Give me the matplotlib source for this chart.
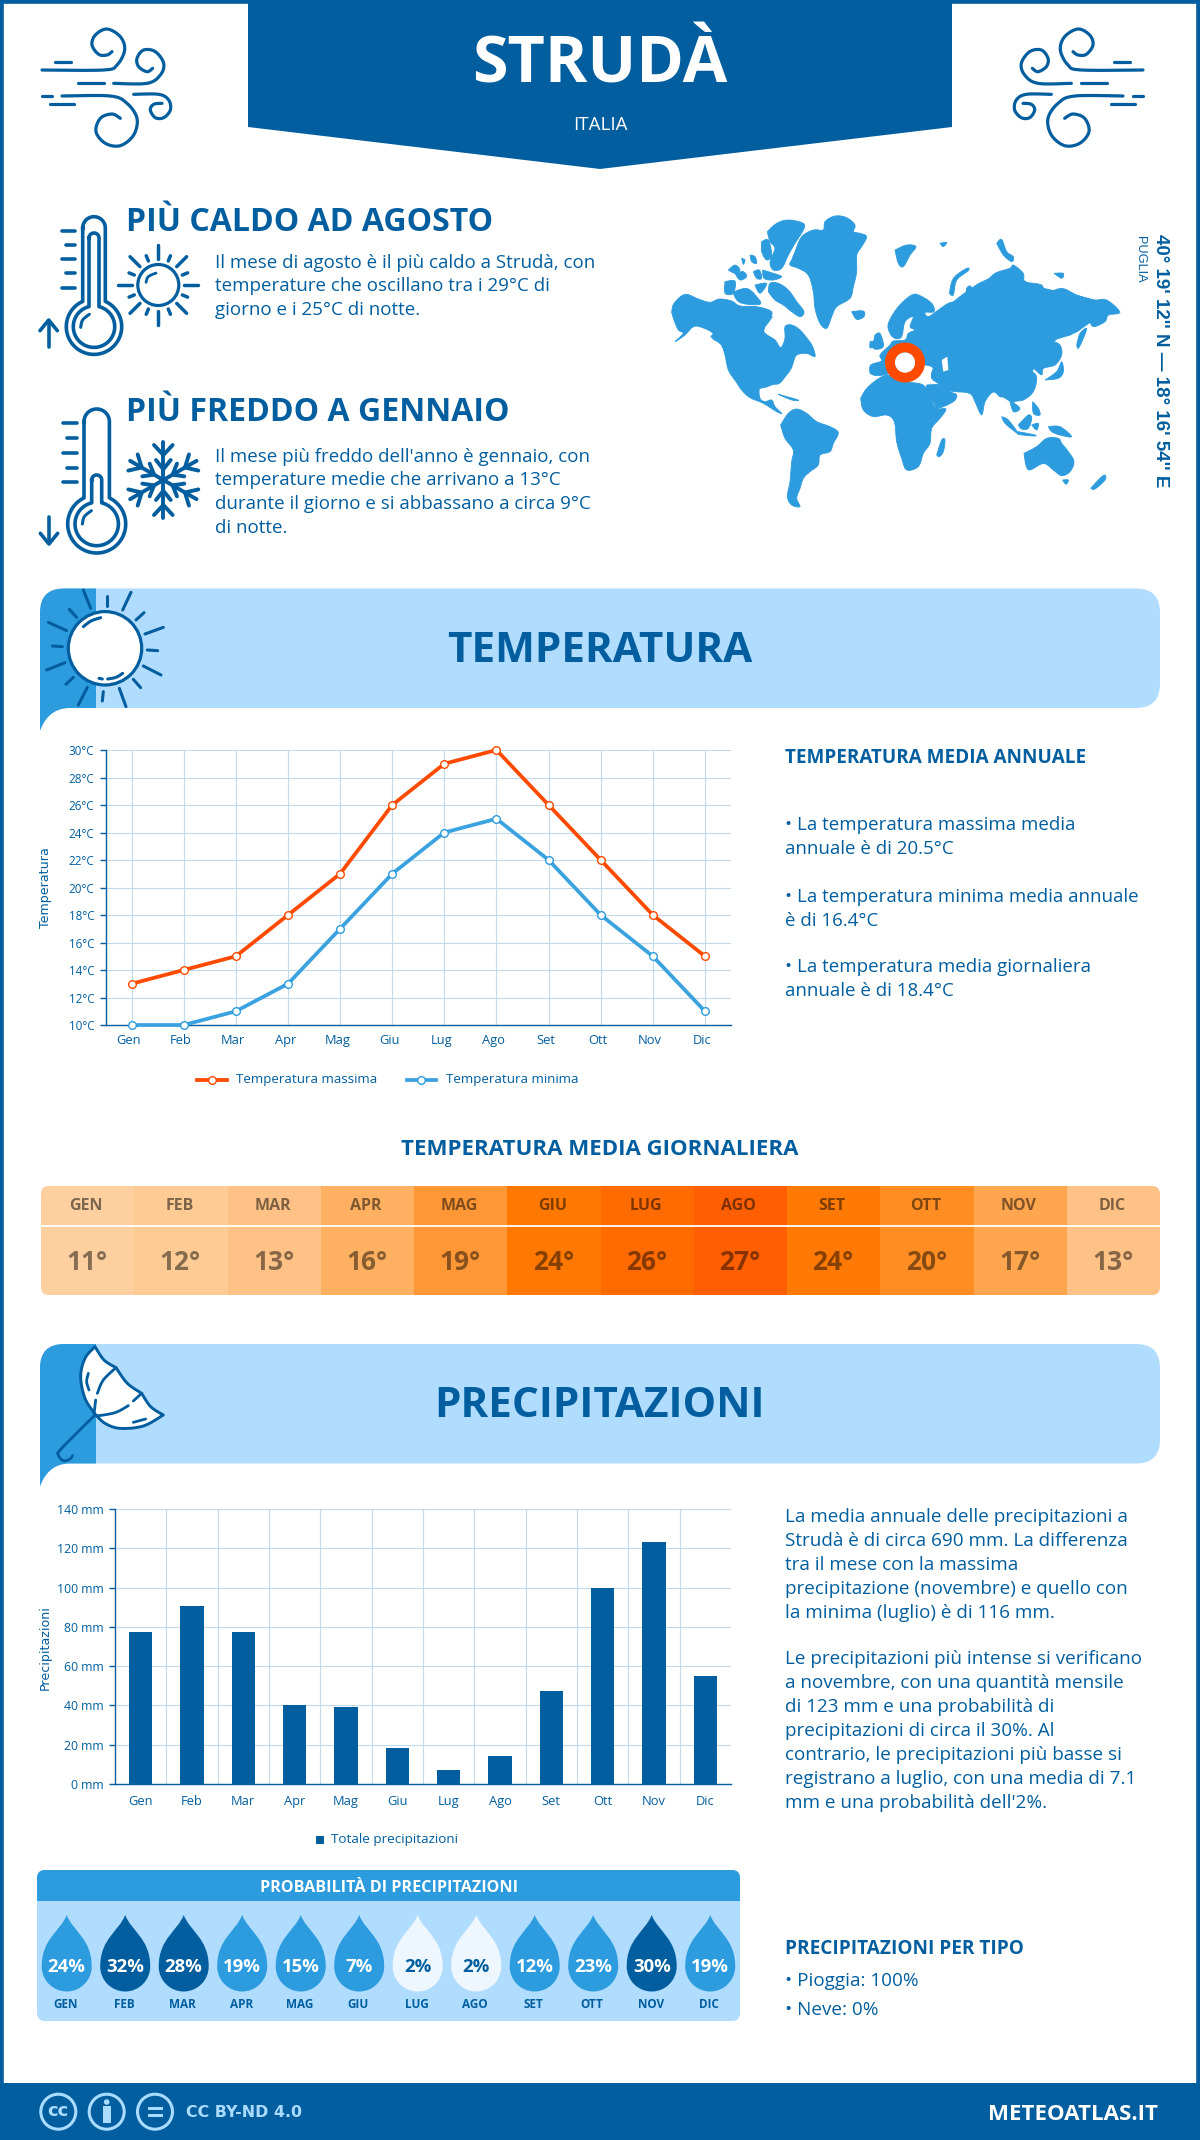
import numpy as np
import matplotlib
matplotlib.use("Agg")
import matplotlib.pyplot as plt
from matplotlib.patches import Rectangle, Circle, Polygon, FancyBboxPatch, PathPatch, Wedge
from matplotlib.path import Path
from matplotlib.transforms import ScaledTranslation

plt.rcParams["font.family"] = ["Open Sans", "DejaVu Sans"]

DARK = "#025e9e"
MID = "#2d9cde"
LIGHT = "#b0dcff"
GRID = "#c3daea"
RED = "#ff4a00"

months = ["Gen", "Feb", "Mar", "Apr", "Mag", "Giu", "Lug", "Ago", "Set", "Ott", "Nov", "Dic"]
temp_max = [13, 14, 15, 18, 21, 26, 29, 30, 26, 22, 18, 15]
temp_min = [10, 10, 11, 13, 17, 21, 24, 25, 22, 18, 15, 11]
temp_mean = [11, 12, 13, 16, 19, 24, 26, 27, 24, 20, 17, 13]
temp_colors = ["#fecf9f", "#fecb95", "#fec286", "#ffb060", "#ff9736", "#ff7800",
               "#ff6b00", "#ff5f00", "#ff7a05", "#ff8d22", "#ffa64f", "#ffc286"]
rain_mm = [77.6, 90.7, 77.6, 40.4, 39.4, 18.4, 7.1, 14.5, 47.4, 100, 123, 55]
rain_prob = [24, 32, 28, 19, 15, 7, 2, 2, 12, 23, 30, 19]

W, H = 1200, 2140
fig = plt.figure(figsize=(W / 100, H / 100), dpi=100, facecolor="white")
bg = fig.add_axes([0, 0, 1, 1])
bg.set_xlim(0, W)
bg.set_ylim(H, 0)
bg.axis("off")


def smooth(pts, n=14):
    p = np.array(pts, dtype=float)
    p = np.vstack([p[0], p, p[-1]])
    out = []
    for i in range(1, len(p) - 2):
        for t in np.linspace(0, 1, n, endpoint=False):
            a = 2 * p[i] + (p[i + 1] - p[i - 1]) * t
            b = (2 * p[i - 1] - 5 * p[i] + 4 * p[i + 1] - p[i + 2]) * t ** 2
            c = (3 * p[i] - p[i - 1] - 3 * p[i + 1] + p[i + 2]) * t ** 3
            out.append(0.5 * (a + b + c))
    out.append(p[-2])
    return np.array(out)


def zline(pts, ox, oy, lw=2.0, curve=True, color=DARK, z=5):
    q = smooth(pts) if curve and len(pts) > 2 else np.array(pts, dtype=float)
    q = q / 3 + [ox, oy]
    bg.plot(q[:, 0], q[:, 1], color=color, lw=lw, solid_capstyle="round", solid_joinstyle="round", zorder=z)


def txt(x, y, s, size, color=DARK, bold=False, ha="left", **kw):
    return bg.text(x, y, s, fontsize=size, color=color, ha=ha, va="center",
                   fontweight="bold" if bold else "normal", **kw)


#Frame and header
bg.add_patch(Rectangle((0, 0), W, H, fc="none", ec=DARK, lw=5.5, zorder=1))
bg.add_patch(Polygon([(248, 0), (952, 0), (952, 127), (600, 169), (248, 127)], fc=DARK, ec="none"))
txt(600, 66, "STRUDÀ", 46.5, "white", True, "center")
txt(600, 125, "ITALIA", 13.5, "white", False, "center")

#Wind icons
wind_curves = [
    [(30, 165), (215, 165), (255, 150), (278, 105), (265, 65), (225, 42), (190, 60), (180, 90), (200, 118), (225, 120), (240, 110)],
    [(245, 205), (345, 205), (385, 180), (395, 145), (370, 110), (335, 105), (315, 130), (320, 155), (345, 170), (362, 160)],
    [(90, 243), (235, 243), (285, 265), (315, 310), (305, 360), (265, 392), (220, 385), (192, 350), (205, 310), (240, 297), (265, 310)],
    [(305, 238), (380, 238), (410, 255), (415, 285), (395, 308), (370, 308), (355, 285), (365, 268), (390, 265)],
    [(68, 140), (118, 140)], [(138, 205), (215, 205)], [(30, 243), (60, 243)], [(55, 267), (125, 267)],
]
for c in wind_curves:
    zline(c, 32, 15, 2.3)
    q = smooth(c) if len(c) > 2 else np.array(c, dtype=float)
    q = q / 3 + [32, 15]
    bg.plot(1185 - q[:, 0], q[:, 1], color=DARK, lw=2.3, solid_capstyle="round")


#Thermometers
def tube(cx, top, half, by, R):
    cap = np.linspace(np.pi, 0, 30)
    a = np.arcsin(half / R)
    phi = np.linspace(a, 2 * np.pi - a, 90)
    o = np.vstack([np.c_[cx + half * np.cos(cap), top - half * np.sin(cap)],
                   np.c_[cx + R * np.sin(phi), by - R * np.cos(phi)]])
    o = np.vstack([o, o[0]])
    bg.plot(o[:, 0], o[:, 1], color=DARK, lw=2.6, solid_joinstyle="round")


tube(94, 228, 11.3, 326.7, 27.7)
tube(94, 238, 5, 326.7, 20.7)
tube(96.7, 421.7, 12.7, 524, 29)
tube(96.7, 480, 5, 524, 21.7)
for y, x0 in zip([77, 120, 163, 205, 248], [97, 108, 97, 108, 97]):
    zline([(x0, y), (135, y)], 30, 205, 2.6)
for y, x0 in zip([70, 115, 158, 203, 247], [100, 110, 100, 110, 100]):
    zline([(x0, y), (140, y)], 30, 400, 2.6)
zline([(56, 425), (56, 347)], 30, 205, 2.6)
zline([(30, 377), (56, 345), (82, 377)], 30, 205, 2.6, curve=False)
zline([(57, 350), (57, 430)], 30, 400, 2.6)
zline([(31, 400), (57, 432), (83, 400)], 30, 400, 2.6, curve=False)
zline([(152, 367), (158, 345), (178, 328)], 30, 205, 2.2)
zline([(157, 372), (163, 350), (184, 332)], 30, 400, 2.2)

#Small sun
bg.add_patch(Circle((158.3, 285), 20.5, fc="none", ec=DARK, lw=2.3))
zline([(348, 232), (355, 215), (378, 204)], 30, 205, 2.0)
for k in range(8):
    a = k * np.pi / 4
    zline([(385 + 78 * np.cos(a), 240 + 78 * np.sin(a)), (385 + 120 * np.cos(a), 240 + 120 * np.sin(a))], 30, 205, 2.5)
    a += np.pi / 8
    zline([(385 + 78 * np.cos(a), 240 + 78 * np.sin(a)), (385 + 95 * np.cos(a), 240 + 95 * np.sin(a))], 30, 205, 2.5)

#Snowflake
for k in range(6):
    a = np.pi / 2 + k * np.pi / 3
    u = np.array([np.cos(a), -np.sin(a)])
    v = np.array([u[1], -u[0]])
    c = np.array([400, 240])
    zline([c, c + u * 115], 30, 400, 2.8)
    for d, end, lat in [(75, 105, 28), (32, 60, 22)]:
        zline([c + u * end + v * lat, c + u * d, c + u * end - v * lat], 30, 400, 2.8, curve=False)

#Top left texts
txt(126, 222.5, "PIÙ CALDO AD AGOSTO", 23, DARK, True)
for y, s in zip([263, 286, 310], ["Il mese di agosto è il più caldo a Strudà, con",
                                  "temperature che oscillano tra i 29°C di",
                                  "giorno e i 25°C di notte."]):
    txt(215, y, s, 13.5)
txt(126, 412.5, "PIÙ FREDDO A GENNAIO", 23, DARK, True)
for y, s in zip([457, 480, 504, 528], ["Il mese più freddo dell'anno è gennaio, con",
                                       "temperature medie che arrivano a 13°C",
                                       "durante il giorno e si abbassano a circa 9°C",
                                       "di notte."]):
    txt(215, y, s, 13.5)

land = [
    [(200, 460), (185, 420), (160, 385), (330, 330), (310, 380), (355, 425), (400, 460), (375, 515), (300, 550), (225, 525)],
    [(830, 330), (1000, 215), (1150, 250), (1330, 300), (1250, 380), (1180, 410), (1190, 470), (1120, 490), (1120, 555), (1060, 590), (1000, 560), (960, 600), (930, 565), (860, 550), (815, 515), (820, 480), (770, 470), (760, 400)],
    [(35, 322), (42, 295), (75, 268), (115, 282), (150, 292), (178, 282), (215, 288), (240, 303), (290, 305), (335, 320), (325, 345), (310, 365), (315, 385), (345, 405), (362, 428), (375, 400), (375, 365), (395, 360), (420, 375), (445, 405), (458, 425), (465, 455), (440, 445), (410, 450), (400, 470), (385, 490), (375, 515), (358, 535), (340, 538), (312, 540), (298, 552), (300, 580), (315, 590), (335, 585), (345, 605), (365, 625), (350, 620), (310, 595), (270, 578), (245, 555), (225, 525), (205, 495), (195, 450), (185, 420), (160, 385), (125, 367), (100, 365), (75, 390), (45, 410), (70, 385), (55, 375), (42, 345)],
    [(395, 165), (405, 140), (425, 95), (460, 75), (490, 75), (495, 50), (525, 33), (560, 38), (585, 60), (580, 80), (600, 85), (620, 95), (605, 125), (590, 150), (590, 200), (580, 245), (570, 280), (530, 305), (515, 335), (500, 370), (480, 355), (465, 310), (460, 260), (445, 210), (415, 190), (390, 180)],
    [(322, 80), (350, 55), (385, 45), (430, 55), (430, 75), (405, 115), (385, 150), (365, 190), (340, 195), (330, 170), (345, 130), (330, 110)],
    [(325, 260), (330, 235), (355, 235), (385, 255), (410, 290), (432, 320), (420, 335), (395, 320), (370, 300), (345, 285)],
    [(195, 230), (225, 228), (220, 265), (195, 265)], [(218, 262), (260, 250), (290, 275), (300, 298), (240, 293)],
    [(305, 110), (325, 105), (335, 150), (320, 165), (305, 140)], [(205, 195), (225, 180), (240, 195), (225, 205)],
    [(225, 205), (250, 200), (260, 215), (240, 225)], [(280, 200), (298, 195), (305, 220), (290, 220)],
    [(308, 195), (340, 205), (365, 215), (340, 225), (312, 220)], [(285, 240), (320, 235), (300, 265)],
    [(270, 150), (285, 155), (290, 175), (275, 170)], [(245, 160), (255, 165), (250, 178)],
    [(575, 320), (610, 318), (612, 335), (590, 343)],
    [(362, 660), (385, 625), (410, 612), (440, 625), (470, 650), (510, 665), (535, 683), (520, 715), (510, 740), (480, 750), (475, 780), (450, 800), (430, 820), (420, 850), (410, 880), (420, 905), (395, 900), (382, 875), (390, 830), (395, 770), (400, 735), (375, 700)],
    [(602, 580), (625, 545), (680, 510), (735, 530), (790, 540), (810, 580), (830, 610), (858, 612), (840, 640), (815, 670), (810, 715), (790, 745), (775, 785), (740, 795), (725, 760), (710, 710), (703, 650), (680, 630), (640, 635), (610, 615)],
    [(830, 750), (845, 705), (855, 705), (850, 740), (838, 755)],
    [(630, 505), (632, 480), (665, 468), (660, 450), (690, 420), (700, 408), (735, 405), (745, 385), (765, 375), (750, 365), (760, 335), (735, 350), (725, 395), (705, 400), (690, 385), (685, 355), (715, 305), (755, 270), (780, 272), (815, 295), (822, 320), (795, 322), (805, 335), (835, 315), (865, 295), (890, 290), (915, 290), (920, 250), (935, 248), (945, 310), (950, 260), (975, 235), (1005, 205), (1050, 190), (1060, 180), (1090, 205), (1095, 230), (1145, 240), (1155, 265), (1205, 250), (1250, 270), (1300, 285), (1340, 285), (1380, 322), (1345, 330), (1335, 350), (1300, 365), (1285, 345), (1265, 365), (1250, 380), (1205, 385), (1178, 405), (1200, 420), (1205, 450), (1185, 480), (1150, 490), (1145, 510), (1120, 490), (1110, 495), (1130, 515), (1120, 560), (1090, 585), (1060, 590), (1080, 610), (1060, 620), (1045, 580), (1020, 575), (1000, 560), (975, 590), (965, 630), (945, 590), (930, 565), (885, 560), (860, 555), (845, 540), (815, 520), (820, 490), (795, 480), (735, 480), (690, 505), (650, 512)],
    [(800, 540), (845, 540), (870, 560), (890, 570), (880, 590), (835, 610), (825, 600), (800, 560)],
    [(1155, 525), (1190, 500), (1205, 470), (1210, 500), (1195, 520)], [(1250, 420), (1260, 385), (1280, 370), (1270, 400), (1255, 430)],
    [(1075, 660), (1105, 630), (1115, 640), (1105, 670), (1085, 672)], [(1025, 635), (1045, 645), (1075, 685), (1065, 680), (1035, 655)],
    [(1075, 680), (1125, 690), (1120, 693), (1075, 688)], [(1115, 660), (1135, 655), (1130, 675)],
    [(1165, 665), (1200, 665), (1235, 695), (1200, 690), (1175, 680)], [(1118, 590), (1135, 610), (1140, 630), (1120, 625)],
    [(1092, 745), (1130, 725), (1160, 700), (1195, 700), (1205, 715), (1225, 740), (1242, 770), (1230, 800), (1205, 812), (1180, 795), (1150, 775), (1105, 795)],
    [(1208, 825), (1225, 825), (1218, 838)], [(1292, 850), (1320, 820), (1335, 810), (1335, 825), (1305, 852)],
    [(705, 135), (740, 120), (768, 125), (750, 150), (730, 185), (715, 175)], [(868, 265), (880, 220), (920, 190), (925, 197), (890, 225), (880, 270)],
    [(840, 115), (860, 112), (850, 125)], [(1010, 115), (1025, 103), (1040, 140), (1060, 155), (1055, 170), (1030, 150)],
    [(1182, 205), (1210, 205), (1205, 220)], [(645, 390), (660, 385), (670, 425), (640, 430)], [(630, 410), (640, 410), (640, 425), (630, 428)],
    [(355, 568), (415, 585), (395, 585)],
]
for poly in land:
    q = smooth(poly + [poly[0]], 4) / 3 + [660, 205]
    bg.fill(q[:, 0], q[:, 1], fc=MID, ec=MID, lw=0.6, zorder=2)
bg.add_patch(Polygon(np.array([(845, 465), (862, 455), (865, 495), (850, 500)]) / 3 + [660, 205], fc="white", ec="none", zorder=3))
bg.add_patch(Wedge((905, 362.5), 20, 0, 360, width=10, fc=RED, ec="none", zorder=4))
bg.add_patch(Circle((905, 362.5), 10, fc="white", ec="none", zorder=4))
bg.text(1160, 361, "40° 19' 12'' N — 18° 16' 54'' E", fontsize=13.5, color=DARK, family="Liberation Sans",
        fontweight="bold", rotation=-90, ha="center", va="center")
bg.text(1140, 259, "PUGLIA", fontsize=9.2, color=DARK, family="Liberation Sans", rotation=-90, ha="center", va="center")


#Section banners
def banner(top, title):
    bot = top + 119.5
    bg.add_patch(FancyBboxPatch((40, top), 1120, bot - top, boxstyle="round,pad=0,rounding_size=24", fc=LIGHT, ec="none"))
    verts = [(40, top + 24), (40, top), (64, top), (96, top), (96, bot), (70, bot), (52, bot), (44, bot + 12), (40, bot + 23), (40, top + 24)]
    codes = [Path.MOVETO, Path.CURVE3, Path.CURVE3, Path.LINETO, Path.LINETO, Path.LINETO,
             Path.CURVE4, Path.CURVE4, Path.CURVE4, Path.CLOSEPOLY]
    bg.add_patch(PathPatch(Path(verts, codes), fc=MID, ec="none"))
    txt(600, top + 62.5, title, 30.4, DARK, True, "center")


banner(588.5, "TEMPERATURA")
banner(1344, "PRECIPITAZIONI")

#Big sun
bg.add_patch(Circle((105, 648.3), 36.7, fc="white", ec=DARK, lw=2.3, zorder=5))
sun_rays = [[(160, 30), (182, 85)], [(303, 37), (278, 90)], [(400, 142), (345, 162)], [(393, 285), (340, 258)],
            [(288, 380), (268, 325)], [(145, 375), (172, 322)], [(50, 270), (105, 248)], [(55, 127), (110, 152)],
            [(230, 47), (230, 78)], [(342, 98), (318, 120)], [(383, 212), (352, 210)], [(332, 323), (310, 298)],
            [(217, 363), (220, 335)], [(108, 313), (130, 292)], [(67, 198), (97, 200)], [(118, 88), (140, 112)],
            [(207, 295), (217, 297)]]
for r in sun_rays:
    zline(r, 30, 580, 2.2, z=6)
zline([(160, 140), (183, 123), (212, 113)], 30, 580, 2.2, z=6)
zline([(233, 297), (258, 292), (278, 280)], 30, 580, 2.2, z=6)

#Umbrella
canopy = np.vstack([smooth([(195, 20), (222, 60), (258, 83)]), smooth([(258, 83), (292, 130), (335, 160)]),
                    smooth([(335, 160), (362, 200), (400, 225)]),
                    smooth([(400, 225), (340, 258), (270, 265), (225, 250), (195, 222)]),
                    smooth([(195, 222), (165, 175), (152, 110), (165, 55), (195, 20)])]) / 3 + [30, 1340]
bg.add_patch(Polygon(canopy, fc="white", ec=DARK, lw=2.1, joinstyle="round", zorder=5))
for r in [[(258, 83), (220, 120), (202, 160)], [(197, 180), (192, 222)], [(335, 160), (310, 183)],
          [(295, 197), (255, 218), (200, 228)], [(175, 100), (170, 125), (177, 150)], [(310, 247), (347, 237)],
          [(195, 225), (95, 325), (85, 345), (100, 362), (118, 358), (128, 347)]]:
    zline(r, 30, 1340, 2.0, z=6)


#Temperature chart
def px_axes(x0, y0, x1, y1):
    ax = fig.add_axes([x0 / W, 1 - y1 / H, (x1 - x0) / W, (y1 - y0) / H])
    ax.patch.set_alpha(0)
    ax.spines["top"].set_visible(False)
    ax.spines["right"].set_visible(False)
    ax.spines["left"].set_color(DARK)
    ax.spines["bottom"].set_color(DARK)
    ax.spines["left"].set_linewidth(1.0)
    ax.spines["bottom"].set_linewidth(1.0)
    ax.grid(True, color=GRID, lw=0.8)
    ax.set_axisbelow(True)
    return ax


ax1 = px_axes(105.6, 750, 731, 1025)
x = np.arange(12)
ax1.plot(x, temp_max, color=RED, lw=2.7, marker="o", ms=5.5, mfc="white", mec=RED, mew=1.0, clip_on=False, zorder=4)
ax1.plot(x, temp_min, color="#3ba2e0", lw=2.7, marker="o", ms=5.5, mfc="white", mec=MID, mew=1.0, clip_on=False, zorder=3)
ax1.set_xlim(-0.5, 11.5)
ax1.set_ylim(10, 30)
ax1.set_xticks(x)
ax1.set_xticklabels(months)
ax1.set_yticks(range(10, 31, 2))
ax1.set_yticklabels([f"{v}°C" for v in range(10, 31, 2)])
ax1.tick_params(axis="x", length=0, pad=6.5, labelsize=9.3, labelcolor=DARK)
ax1.tick_params(axis="y", length=4, width=1, color=DARK, pad=4, labelsize=8.4, labelcolor=DARK)
for lab in ax1.get_xticklabels():
    lab.set_transform(lab.get_transform() + ScaledTranslation(-2 / 72, 0, fig.dpi_scale_trans))
bg.text(45, 888, "Temperatura", fontsize=9.1, color=DARK, family="DejaVu Sans", rotation=90, ha="center", va="center")

bg.plot([197, 227], [1080, 1080], color=RED, lw=2.7, zorder=3)
bg.plot([212], [1080], marker="o", ms=5.5, mfc="white", mec=RED, mew=1, zorder=4)
txt(236, 1080, "Temperatura massima", 9.6)
bg.plot([407, 436], [1080, 1080], color="#3ba2e0", lw=2.7, zorder=3)
bg.plot([421], [1080], marker="o", ms=5.5, mfc="white", mec=MID, mew=1, zorder=4)
txt(446, 1080, "Temperatura minima", 9.6)

txt(785, 758, "TEMPERATURA MEDIA ANNUALE", 13.6, DARK, True)
for y, s in zip([825.5, 848.5, 896.5, 920.5, 967.5, 991.5],
                ["• La temperatura massima media", "annuale è di 20.5°C",
                 "• La temperatura minima media annuale", "è di 16.4°C",
                 "• La temperatura media giornaliera", "annuale è di 18.4°C"]):
    txt(785, y, s, 13.5)

#Mean temperature table
txt(600, 1149.5, "TEMPERATURA MEDIA GIORNALIERA", 16, DARK, True, "center")
frame = FancyBboxPatch((41, 1186), 1119, 109, boxstyle="round,pad=0,rounding_size=8", fc="none", ec="none")
bg.add_patch(frame)
cw = 1119 / 12
for i, (v, col, m) in enumerate(zip(temp_mean, temp_colors, months)):
    r = Rectangle((41 + i * cw, 1186), cw + 0.5, 109, fc=col, ec="none", zorder=2)
    bg.add_patch(r)
    r.set_clip_path(frame)
    cx = 41 + (i + 0.5) * cw
    txt(cx - 1.5, 1206, m.upper(), 11.5, "#000000", True, "center", alpha=0.5, zorder=3)
    txt(cx - 0.5, 1263, f"{v}°", 19, "#000000", True, "center", alpha=0.47, zorder=3)
bg.plot([41, 1160], [1226, 1226], color="white", lw=1.3, zorder=3)

#Precipitation chart
ax2 = px_axes(115, 1509, 731, 1784)
ax2.bar(x, rain_mm, width=0.45, color=DARK, zorder=3)
ax2.set_xlim(-0.5, 11.5)
ax2.set_ylim(0, 140)
ax2.set_xticks(x)
ax2.set_xticklabels(months)
ax2.set_yticks(range(0, 141, 20))
ax2.set_yticklabels([f"{v} mm" for v in range(0, 141, 20)])
ax2.set_xticks(x[:-1] + 0.5, minor=True)
ax2.xaxis.grid(False, which="major")
ax2.xaxis.grid(True, which="minor", color=GRID, lw=0.8)
ax2.tick_params(axis="x", which="both", length=0)
ax2.tick_params(axis="x", pad=8, labelsize=9.3, labelcolor=DARK)
ax2.tick_params(axis="y", length=4, width=1, color=DARK, pad=4, labelsize=8.8, labelcolor=DARK)
bg.text(45, 1648, "Precipitazioni", fontsize=9.1, color=DARK, family="DejaVu Sans", rotation=90, ha="center", va="center")
bg.add_patch(Rectangle((316, 1836), 8, 8, fc=DARK, ec="none"))
txt(331, 1840, "Totale precipitazioni", 9.7)

rain_lines = ["La media annuale delle precipitazioni a", "Strudà è di circa 690 mm. La differenza",
              "tra il mese con la massima", "precipitazione (novembre) e quello con",
              "la minima (luglio) è di 116 mm.",
              "Le precipitazioni più intense si verificano", "a novembre, con una quantità mensile",
              "di 123 mm e una probabilità di", "precipitazioni di circa il 30%. Al",
              "contrario, le precipitazioni più basse si", "registrano a luglio, con una media di 7.1",
              "mm e una probabilità dell'2%."]
for y, s in zip([1517.5, 1540.5, 1564.5, 1588.5, 1612.5, 1659.5, 1683.5, 1707.5, 1730.5, 1754.5, 1778.5, 1802.5], rain_lines):
    txt(785, y, s, 13.55)

#Rain probability panel
panel = FancyBboxPatch((37, 1870), 703, 151, boxstyle="round,pad=0,rounding_size=8", fc=LIGHT, ec="none")
bg.add_patch(panel)
head = Rectangle((37, 1870), 703, 31, fc=MID, ec="none", zorder=2)
bg.add_patch(head)
head.set_clip_path(panel)
txt(389, 1887.5, "PROBABILITÀ DI PRECIPITAZIONI", 11.6, "white", True, "center", zorder=3)


def drop(cx, fc):
    top, cy, R = 1915, 1966.5, 25
    k = 0.5523 * R
    verts = [(cx, top), (cx + 6, top + 16), (cx + R, cy - 28), (cx + R, cy),
             (cx + R, cy + k), (cx + k, cy + R), (cx, cy + R),
             (cx - k, cy + R), (cx - R, cy + k), (cx - R, cy),
             (cx - R, cy - 28), (cx - 6, top + 16), (cx, top), (cx, top)]
    codes = [Path.MOVETO] + [Path.CURVE4] * 12 + [Path.CLOSEPOLY]
    bg.add_patch(PathPatch(Path(verts, codes), fc=fc, ec="none", zorder=3))


for i, (p, m) in enumerate(zip(rain_prob, months)):
    cx = 66.7 + i * 58.5
    if p >= 28:
        fc, tc = DARK, "white"
    elif p >= 5:
        fc, tc = MID, "white"
    else:
        fc, tc = "#eef7ff", DARK
    drop(cx, fc)
    txt(cx, 1967, f"{p}%", 13.3, tc, True, "center", zorder=4)
    txt(cx - 1, 2005, m.upper(), 8.5, DARK, True, "center", zorder=4)

txt(785, 1949, "PRECIPITAZIONI PER TIPO", 13.65, DARK, True)
txt(785, 1981, "• Pioggia: 100%", 13.6)
txt(785, 2010, "• Neve: 0%", 13.6)

#Footer
CC = "#a9dcff"
bg.add_patch(Rectangle((0, 2083), W, 57, fc=DARK, ec="none", zorder=2))
for cx in [58.3, 106.7, 155]:
    bg.add_patch(Circle((cx, 2111.7), 17.5, fc="none", ec=CC, lw=2.2, zorder=3))
bg.text(58.3, 2111, "cc", fontsize=13, color=CC, family="DejaVu Sans", fontweight="bold", ha="center", va="center", zorder=3)
bg.add_patch(Circle((106.7, 2102), 2.8, fc=CC, ec="none", zorder=3))
bg.add_patch(Rectangle((102.7, 2106), 8, 17, fc=CC, ec="none", zorder=3))
bg.add_patch(Rectangle((147.5, 2106.5), 15, 3, fc=CC, ec="none", zorder=3))
bg.add_patch(Rectangle((147.5, 2113.5), 15, 3, fc=CC, ec="none", zorder=3))
bg.text(185.5, 2112.5, "CC BY-ND 4.0", fontsize=11.4, color=CC, family="DejaVu Sans", fontweight="bold", va="center", zorder=3)
txt(1158, 2114, "METEOATLAS.IT", 16, "white", True, "right", zorder=3)

fig.savefig("out.png", dpi=100)
